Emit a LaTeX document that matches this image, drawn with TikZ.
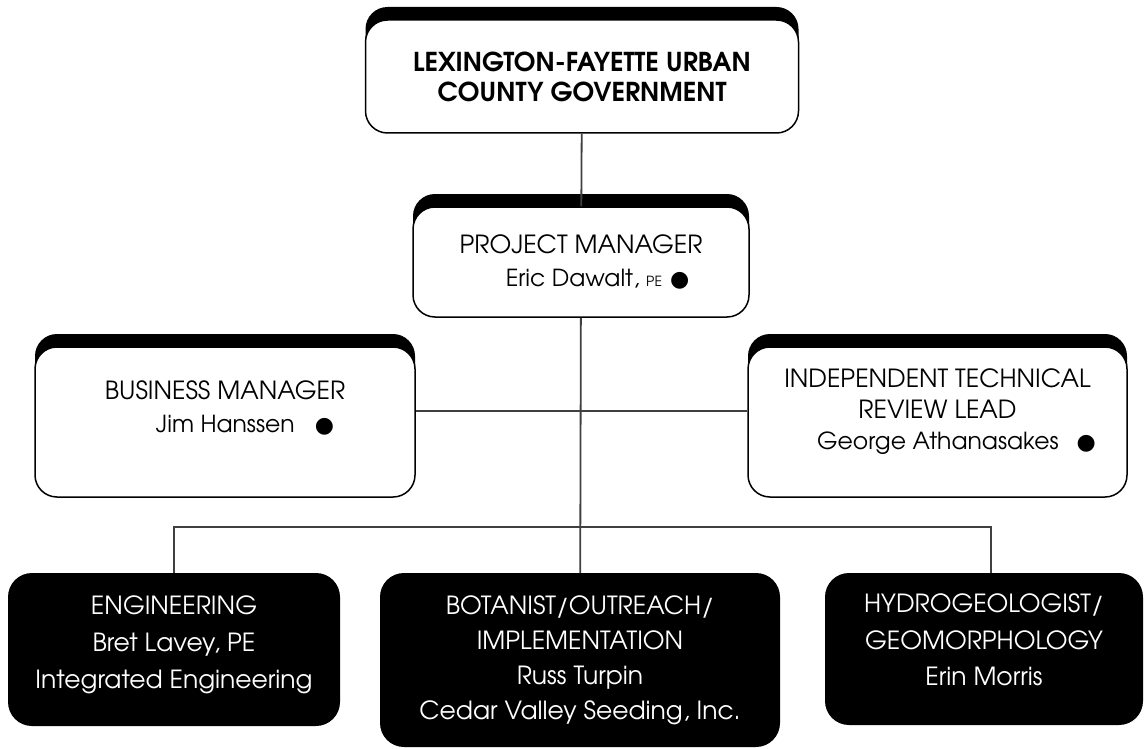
\documentclass[tikz,border=0pt]{standalone}
\usepackage{fontspec}
\setmainfont{TeX Gyre Adventor}
\newfontfamily\dotfont{DejaVu Sans}
\usetikzlibrary{shadows}

\tikzset{
    card/.style={draw=black, line width=1.5pt, fill=white, rounded corners=22pt, align=center,
        general shadow={fill=black, shadow yshift=13pt}},
    team/.style={fill=black, text=white, rounded corners=24pt, align=center},
    link/.style={draw=black!75, line width=1.8pt}
}
\newcommand{\onduty}[1]{\hspace{#1}{\dotfont\fontsize{22}{22}\selectfont ●}}
\newcommand{\roletitle}[1]{{\fontsize{25}{33}\selectfont #1}}

\begin{document}
\begin{tikzpicture}[x=1pt, y=-1pt]
        \fill[white] (0,0) rectangle (1145,749);
        \useasboundingbox (0,0) rectangle (1145,749);

        % top of the chart
        \node[card, minimum width=433pt, minimum height=113pt, font=\bfseries\fontsize{26}{30}\selectfont] (lfucg) at (582,76.5) {LEXINGTON-FAYETTE URBAN\\COUNTY GOVERNMENT};
        \node[card, minimum width=336pt, minimum height=110pt, font=\fontsize{23.5}{33}\selectfont] (pm) at (581,262) {\roletitle{PROJECT MANAGER}\\ \hspace*{33pt}Eric Dawalt, {\fontsize{14}{14}\selectfont PE}\onduty{8pt}};

        % second row
        \node[card, minimum width=380pt, minimum height=150pt, font=\fontsize{23.5}{33}\selectfont, text depth=30pt] (biz) at (225,422) {\roletitle{BUSINESS MANAGER}\\ \hspace*{40pt}Jim Hanssen\onduty{20pt}};
        \node[card, minimum width=379pt, minimum height=150pt, font=\fontsize{23.5}{31}\selectfont, text depth=26pt] (itr) at (937.5,422) {\roletitle{INDEPENDENT TECHNICAL}\\\roletitle{REVIEW LEAD}\\ \hspace*{38pt}George Athanasakes\onduty{18pt}};

        % teams
        \node[team, minimum width=332pt, minimum height=153pt, font=\fontsize{25}{37}\selectfont, text depth=15pt] (eng) at (174,649.5) {ENGINEERING\\Bret Lavey, PE\\Integrated Engineering};
        \node[team, minimum width=400pt, minimum height=174pt, font=\fontsize{25}{35}\selectfont] (bot) at (580,660) {BOTANIST/OUTREACH/\\IMPLEMENTATION\\Russ Turpin\\Cedar Valley Seeding, Inc.};
        \node[team, minimum width=318pt, minimum height=152pt, font=\fontsize{25}{36.5}\selectfont, text depth=18pt] (hyd) at (984,649) {HYDROGEOLOGIST/\\GEOMORPHOLOGY\\Erin Morris};

        \coordinate (hub) at (580,411);
        \coordinate (bus) at (580,527);

        \draw[link] (lfucg) -- (pm);
        \draw[link] (pm) -- (bot);
        \draw[link] (biz.east |- hub) -- (itr.west |- hub);
        \draw[link] (eng.north) |- (bus) -| ([xshift=7pt]hyd.north);
    \end{tikzpicture}
\end{document}
